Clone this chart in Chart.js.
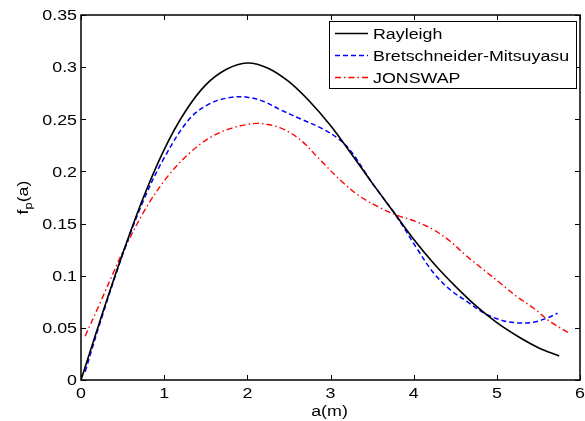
<!DOCTYPE html>
<html>
<head>
<meta charset="utf-8">
<script src="https://cdn.jsdelivr.net/npm/chart.js@4"></script>
<style>
  html, body { margin: 0; padding: 0; background: #fff; }
  #wrap { width: 585px; height: 421px; }
</style>
</head>
<body>
<div id="wrap"><canvas id="c" width="585" height="421"></canvas></div>
<script>
// ---- data ----
const seriesNames = ['Rayleigh', 'Bretschneider-Mitsuyasu', 'JONSWAP'];

const rayleighA = [0, 0.25, 0.5, 0.75, 1.0, 1.25, 1.5, 1.75, 2.0, 2.25, 2.5, 2.75, 3.0, 3.25, 3.5, 3.75, 4.0, 4.25, 4.5, 4.75, 5.0, 5.25, 5.5, 5.75];
const rayleighF = [0, 0.062, 0.121, 0.175, 0.221, 0.257, 0.283, 0.298, 0.304, 0.299, 0.286, 0.267, 0.244, 0.217, 0.189, 0.162, 0.135, 0.111, 0.090, 0.071, 0.055, 0.042, 0.031, 0.023];

const bretA = [0.05, 0.25, 0.5, 0.75, 1.0, 1.3, 1.55, 1.8, 2.0, 2.2, 2.4, 2.65, 2.9, 3.1, 3.25, 3.5, 3.78, 4.04, 4.24, 4.44, 4.64, 4.84, 5.04, 5.24, 5.44, 5.6, 5.73];
const bretF = [0.008, 0.060, 0.120, 0.172, 0.213, 0.250, 0.265, 0.271, 0.2712, 0.267, 0.259, 0.250, 0.241, 0.231, 0.219, 0.189, 0.1587, 0.126, 0.1026, 0.0865, 0.0753, 0.0645, 0.0577, 0.0548, 0.0553, 0.0593, 0.064];

const jonA = [0.05, 0.23, 0.39, 0.51, 0.79, 1.05, 1.31, 1.55, 1.79, 2.0, 2.15, 2.39, 2.63, 2.87, 3.11, 3.35, 3.6, 3.8, 4.06, 4.24, 4.44, 4.64, 4.84, 5.04, 5.24, 5.44, 5.64, 5.86];
const jonF = [0.042, 0.074, 0.103, 0.124, 0.166, 0.196, 0.218, 0.2324, 0.241, 0.245, 0.246, 0.242, 0.2308, 0.2115, 0.1923, 0.1763, 0.165, 0.158, 0.151, 0.144, 0.133, 0.1186, 0.1058, 0.093, 0.080, 0.069, 0.056, 0.0455];

const xTicks = [0, 1, 2, 3, 4, 5, 6];
const yTicks = [0, 0.05, 0.1, 0.15, 0.2, 0.25, 0.3, 0.35];
const yTickLabels = ['0', '0.05', '0.1', '0.15', '0.2', '0.25', '0.3', '0.35'];
const xTitle = 'a(m)';

// ---- styling ----
const FONT = '"Liberation Sans", Arial, Helvetica, sans-serif';
const FS = 15.5;
const SX = 1.15; // horizontal stretch of the reference text
const colors = ['#000000', '#0000ff', '#ff0000'];
const dashes = [[], [5, 3], [6, 3, 1.5, 3]];
const widths = [1.6, 1.5, 1.4];

function pts(a, f) { return a.map((v, i) => ({ x: v, y: f[i] })); }

function stretchedText(ctx, txt, x, y, align, fs) {
  ctx.save();
  ctx.font = (fs || FS) + 'px ' + FONT;
  const w = ctx.measureText(txt).width * SX;
  let left = x;
  if (align === 'center') left = x - w / 2;
  else if (align === 'right') left = x - w;
  ctx.translate(left, y);
  ctx.scale(SX, 1);
  ctx.textAlign = 'left';
  ctx.fillText(txt, 0, 0);
  ctx.restore();
  return w;
}

const framePlugin = {
  id: 'frame',
  afterDatasetsDraw(chart) {
    const ctx = chart.ctx;
    const a = chart.chartArea;
    const xs = chart.scales.x, ys = chart.scales.y;
    ctx.save();
    ctx.strokeStyle = '#000';
    ctx.lineWidth = 1.5;
    ctx.strokeRect(a.left, a.top, a.right - a.left, a.bottom - a.top);
    ctx.lineWidth = 1;
    const TL = 5;
    ctx.beginPath();
    xTicks.forEach(v => {
      const px = Math.round(xs.getPixelForValue(v)) + 0.5;
      ctx.moveTo(px, a.bottom); ctx.lineTo(px, a.bottom - TL);
      ctx.moveTo(px, a.top); ctx.lineTo(px, a.top + TL);
    });
    yTicks.forEach(v => {
      const py = Math.round(ys.getPixelForValue(v)) + 0.5;
      ctx.moveTo(a.left, py); ctx.lineTo(a.left + TL, py);
      ctx.moveTo(a.right, py); ctx.lineTo(a.right - TL, py);
    });
    ctx.stroke();

    // tick labels
    ctx.fillStyle = '#000';
    ctx.textBaseline = 'middle';
    xTicks.forEach(v => {
      stretchedText(ctx, String(v), xs.getPixelForValue(v), a.bottom + 14, 'center');
    });
    yTicks.forEach((v, i) => {
      stretchedText(ctx, yTickLabels[i], a.left - 4, ys.getPixelForValue(v) + 1, 'right');
    });
    // x title
    stretchedText(ctx, xTitle, (a.left + a.right) / 2 - 1, a.bottom + 32, 'center');

    // y title: f_p(a), rotated
    ctx.save();
    ctx.font = FS + 'px ' + FONT;
    const wf = ctx.measureText('f').width * SX;
    const wa = ctx.measureText('(a)').width * SX;
    ctx.font = (FS * 0.72) + 'px ' + FONT;
    const wp = ctx.measureText('p').width * SX;
    const total = wf + wp + wa;
    const cy = (a.top + a.bottom) / 2;
    ctx.translate(28, cy + total / 2);
    ctx.rotate(-Math.PI / 2);
    ctx.textBaseline = 'alphabetic';
    stretchedText(ctx, 'f', 0, 0, 'left');
    stretchedText(ctx, 'p', wf, 4, 'left', FS * 0.72);
    stretchedText(ctx, '(a)', wf + wp, 0, 'left');
    ctx.restore();

    // legend
    const lx = 329.5, ly = 21.5, lw = 247, lh = 67;
    ctx.fillStyle = '#fff';
    ctx.fillRect(lx, ly, lw, lh);
    ctx.strokeStyle = '#000';
    ctx.lineWidth = 1;
    ctx.strokeRect(lx, ly, lw, lh);
    const rowsY = [33.5, 55.5, 77.5];
    seriesNames.forEach((n, i) => {
      ctx.save();
      ctx.strokeStyle = colors[i];
      ctx.lineWidth = widths[i];
      ctx.setLineDash(dashes[i]);
      ctx.beginPath();
      ctx.moveTo(335, rowsY[i]); ctx.lineTo(368, rowsY[i]);
      ctx.stroke();
      ctx.restore();
      ctx.fillStyle = '#000';
      ctx.textBaseline = 'middle';
      stretchedText(ctx, n, 373, rowsY[i] + 1, 'left');
    });
    ctx.restore();
  }
};

const datasets = [
  { label: seriesNames[0], data: pts(rayleighA, rayleighF) },
  { label: seriesNames[1], data: pts(bretA, bretF) },
  { label: seriesNames[2], data: pts(jonA, jonF) }
].map((d, i) => Object.assign(d, {
  borderColor: colors[i],
  backgroundColor: colors[i],
  borderWidth: widths[i],
  borderDash: dashes[i],
  pointRadius: 0,
  fill: false,
  tension: 0.35
}));

new Chart(document.getElementById('c'), {
  type: 'line',
  data: { datasets },
  options: {
    responsive: false,
    animation: false,
    layout: { padding: { left: 81, right: 5, top: 15, bottom: 41 } },
    plugins: { legend: { display: false }, tooltip: { enabled: false } },
    scales: {
      x: { type: 'linear', min: 0, max: 6, display: false },
      y: { type: 'linear', min: 0, max: 0.35, display: false }
    }
  },
  plugins: [framePlugin]
});
</script>
</body>
</html>
